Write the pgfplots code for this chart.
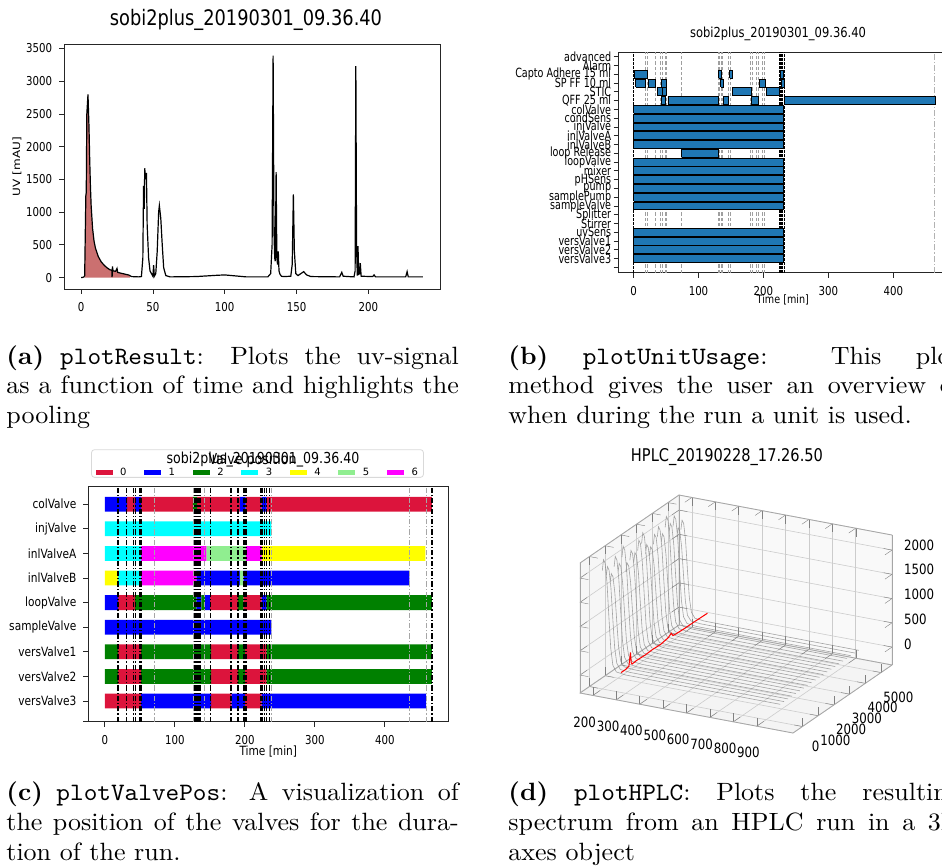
\documentclass[border=0pt]{standalone}
\usepackage{fontspec}
\usepackage{graphicx}
\usepackage{pgfplots}
\pgfplotsset{compat=1.18}
\newfontfamily\dv{DejaVu Sans}
\definecolor{tabblue}{RGB}{31,119,180}
\definecolor{vcrimson}{RGB}{220,20,60}
\definecolor{vblue}{RGB}{0,0,255}
\definecolor{vgreen}{RGB}{0,128,0}
\definecolor{vcyan}{RGB}{0,255,255}
\definecolor{vyellow}{RGB}{255,255,0}
\definecolor{vlgreen}{RGB}{144,238,144}
\definecolor{vmagenta}{RGB}{255,0,255}
\definecolor{poolred}{RGB}{203,112,112}
\pgfplotsset{
  mplbase/.style={
    scale only axis, axis line style={line width=0.45pt, black!85},
    tick align=outside, tick pos=left, major tick length=2.4pt,
    every tick/.style={black!85, line width=0.4pt},
    /pgf/number format/assume math mode=true,
    /pgf/number format/1000 sep={},
    scaled ticks=false,
    tick label style={font=\dv\fontsize{5.1}{6}\selectfont, yscale=1.2},
  }
}
\newcommand{\capbox}[1]{\scalebox{1.3}[1.25]{\parbox[t]{174pt}{\fontsize{10}{12}\selectfont #1}}}
\begin{document}
\begin{tikzpicture}
% ---------------- (d) ----------------
\begin{axis}[at={(290pt,-366.5pt)},
  x={(11.703pt,-2.198pt)}, y={(7.857pt,5.397pt)}, z={(0pt,24.25pt)},
  x filter/.expression={x/100}, y filter/.expression={y/1000}, z filter/.expression={z/1000},
  xmin=1.45, xmax=10.55, ymin=-0.6, ymax=5.7, zmin=-0.37, zmax=2.31,
  xtick={2,3,...,9}, xticklabels={200,300,400,500,600,700,800,900},
  ytick={0,1,...,5}, yticklabels={0,1000,2000,3000,4000,5000},
  ztick={0,0.5,...,2}, zticklabels={0,500,1000,1500,2000},
  zticklabel pos=right,
  grid=major, major grid style={gray!40, line width=0.3pt},
  set layers,
  axis line style={gray!70, line width=0.4pt},
  tick label style={font=\dv\fontsize{5.9}{7}\selectfont, yscale=1.2},
  xticklabel style={yshift=-4.5pt},
  yticklabel style={yshift=-2.5pt, xshift=1pt},
  zticklabel style={xshift=2.5pt},
  clip=false, empty line=jump,
]
\addplot3[on layer=axis background, fill=gray!7, draw=gray!25] coordinates {(145,-600,-370) (145,5700,-370) (145,5700,2310) (145,-600,2310)} --cycle;
\addplot3[on layer=axis background, fill=gray!5, draw=gray!25] coordinates {(145,5700,-370) (1055,5700,-370) (1055,5700,2310) (145,5700,2310)} --cycle;
\addplot3[on layer=axis background, fill=gray!9, draw=gray!25] coordinates {(145,-600,-370) (1055,-600,-370) (1055,5700,-370) (145,5700,-370)} --cycle;
\addplot3[gray, opacity=0.7, line width=0.3pt] table {
200 0 2070
205 0 2300
212 0 2231
220 0 1840
228 0 1150
236 0 506
245 0 161
260 0 35
300 0 8
500 0 4
960 0 2

200 250 1890
205 250 2100
212 250 2037
220 250 1680
228 250 1050
236 250 462
245 250 147
260 250 32
300 250 8
500 250 4
960 250 2

200 500 1710
205 500 1900
212 500 1843
220 500 1520
228 500 950
236 500 418
245 500 133
260 500 29
300 500 8
500 500 4
960 500 2

200 750 1980
205 750 2200
212 750 2134
220 750 1760
228 750 1100
236 750 484
245 750 154
260 750 33
300 750 8
500 750 4
960 750 2

200 1000 1800
205 1000 2000
212 1000 1940
220 1000 1600
228 1000 1000
236 1000 440
245 1000 140
260 1000 30
300 1000 8
500 1000 4
960 1000 2

200 1250 2070
205 1250 2300
212 1250 2231
220 1250 1840
228 1250 1150
236 1250 506
245 1250 161
260 1250 35
300 1250 8
500 1250 4
960 1250 2

200 1500 1710
205 1500 1900
212 1500 1843
220 1500 1520
228 1500 950
236 1500 418
245 1500 133
260 1500 29
300 1500 8
500 1500 4
960 1500 2

200 1750 1890
205 1750 2100
212 1750 2037
220 1750 1680
228 1750 1050
236 1750 462
245 1750 147
260 1750 32
300 1750 8
500 1750 4
960 1750 2

200 2000 1800
205 2000 2000
212 2000 1940
220 2000 1600
228 2000 1000
236 2000 440
245 2000 140
260 2000 30
300 2000 8
500 2000 4
960 2000 2

200 2250 1980
205 2250 2200
212 2250 2134
220 2250 1760
228 2250 1100
236 2250 484
245 2250 154
260 2250 33
300 2250 8
500 2250 4
960 2250 2

200 2500 2070
205 2500 2300
212 2500 2231
220 2500 1840
228 2500 1150
236 2500 506
245 2500 161
260 2500 35
300 2500 8
500 2500 4
960 2500 2

200 2750 1800
205 2750 2000
212 2750 1940
220 2750 1600
228 2750 1000
236 2750 440
245 2750 140
260 2750 30
300 2750 8
500 2750 4
960 2750 2

200 3000 1710
205 3000 1900
212 3000 1843
220 3000 1520
228 3000 950
236 3000 418
245 3000 133
260 3000 29
300 3000 8
500 3000 4
960 3000 2

200 3250 1890
205 3250 2100
212 3250 2037
220 3250 1680
228 3250 1050
236 3250 462
245 3250 147
260 3250 32
300 3250 8
500 3250 4
960 3250 2

200 3500 1980
205 3500 2200
212 3500 2134
220 3500 1760
228 3500 1100
236 3500 484
245 3500 154
260 3500 33
300 3500 8
500 3500 4
960 3500 2

200 3750 1800
205 3750 2000
212 3750 1940
220 3750 1600
228 3750 1000
236 3750 440
245 3750 140
260 3750 30
300 3750 8
500 3750 4
960 3750 2

200 4000 2070
205 4000 2300
212 4000 2231
220 4000 1840
228 4000 1150
236 4000 506
245 4000 161
260 4000 35
300 4000 8
500 4000 4
960 4000 2

200 4250 1890
205 4250 2100
212 4250 2037
220 4250 1680
228 4250 1050
236 4250 462
245 4250 147
260 4250 32
300 4250 8
500 4250 4
960 4250 2

200 4500 1980
205 4500 2200
212 4500 2134
220 4500 1760
228 4500 1100
236 4500 484
245 4500 154
260 4500 33
300 4500 8
500 4500 4
960 4500 2

200 4750 1710
205 4750 1900
212 4750 1843
220 4750 1520
228 4750 950
236 4750 418
245 4750 133
260 4750 29
300 4750 8
500 4750 4
960 4750 2

200 5000 1800
205 5000 2000
212 5000 1940
220 5000 1600
228 5000 1000
236 5000 440
245 5000 140
260 5000 30
300 5000 8
500 5000 4
960 5000 2
};
\addplot3[red, line width=0.5pt] table {
280 0 40
280 300 40
280 500 60
280 600 320
280 650 100
280 700 60
280 1000 70
280 1500 60
280 2000 70
280 2500 60
280 3000 90
280 3200 140
280 3300 70
280 3500 60
280 4000 50
280 4500 50
280 5000 45
280 5500 40
};
\end{axis}
\useasboundingbox (0,0) rectangle (471pt,-433pt);
\clip (0,0) rectangle (471pt,-433pt);
% ---------------- (a) ----------------
\begin{axis}[mplbase, at={(32pt,-144.5pt)}, anchor=south west,
  width=188pt, height=122.35pt,
  xmin=-11.9, xmax=249.9, ymin=-175, ymax=3565,
  xtick={0,50,...,250}, ytick={0,500,...,3500},
  ylabel={UV [mAU]},
  every axis y label/.style={at={(axis description cs:-0.125,0.5)}, anchor=center, rotate=90, xscale=1.2, font=\dv\fontsize{5}{6}\selectfont},
]
\addplot[fill=poolred, draw=none] table {
2.5 30
3.3 1250
3.6 1300
4.0 2500
4.8 2800
5.5 2300
6 1800
6.5 1400
7 1100
8 750
9 560
10 450
12 320
14 240
16 190
18 150
20 120
21.4 110
21.6 5
21.8 170
22.3 100
23 100
24 95
25 140
25.5 80
27 70
30 55
33 40
34 30
} \closedcycle;
\addplot[black, line width=0.6pt] table {
0 0
1 2
2 10
2.5 30
3.3 1250
3.6 1300
4.0 2500
4.8 2800
5.5 2300
6 1800
6.5 1400
7 1100
8 750
9 560
10 450
12 320
14 240
16 190
18 150
20 120
21.4 110
21.6 5
21.8 170
22.3 100
23 100
24 95
25 140
25.5 80
27 70
30 55
33 40
34 30
35 15
40 10
42 15
43 300
43.5 1400
44 1050
44.3 1670
45 1500
45.5 1600
46 800
47 300
48 100
49.5 40
50 20
50.5 190
51 20
52 60
53 400
54 1000
54.5 1100
55.5 900
56.5 500
57.5 150
59 30
62 10
80 15
95 35
100 40
105 30
115 10
130 10
132 60
133 500
133.7 3390
134.3 700
134.8 300
135.2 250
135.8 1610
136.3 300
136.8 200
137.3 400
137.8 100
138.5 50
139.5 20
141 15
146 20
147 200
147.8 1270
148.5 400
149.5 60
151 30
153 60
155 90
157 40
160 15
180 10
181.5 80
182.5 20
190 10
190.8 100
191.3 3230
191.8 500
192.3 30
192.8 480
193.3 50
194 60
194.4 220
195 20
203 15
204 40
205 10
226 10
227 90
227.8 10
238 10
};
\end{axis}
% ---------------- (b) ----------------
\begin{axis}[mplbase, at={(309.15pt,-136.35pt)}, anchor=south west,
  width=167.85pt, height=110.2pt,
  xmin=-23.5, xmax=493.5, ymin=-0.6, ymax=24.5,
  xtick={0,100,...,400}, ytick={0,...,24},
  yticklabels={{},versValve3,versValve2,versValve1,uvSens,Stirrer,Splitter,sampleValve,samplePump,pump,pHSens,mixer,loopValve,loop Release,inlValveB,inlValveA,injValve,condSens,colValve,QFF 25 ml,STIC,SP FF 10 ml,Capto Adhere 15 ml,Alarm,advanced},
  yticklabel style={font=\dv\fontsize{4.8}{5}\selectfont, inner sep=1pt, yscale=1.1},
  xlabel={Time [min]},
  every axis x label/.style={at={(axis description cs:0.49,-0.122)}, anchor=center, yscale=1.2, font=\dv\fontsize{4.8}{6}\selectfont},
  unbounded coords=jump,
]
\addplot[gray!75, line width=0.45pt, dash pattern=on 1.6pt off 1pt] table {
19 -0.6
19 24.5
nan nan
21 -0.6
21 24.5
nan nan
33 -0.6
33 24.5
nan nan
41 -0.6
41 24.5
nan nan
44 -0.6
44 24.5
nan nan
49 -0.6
49 24.5
nan nan
51 -0.6
51 24.5
nan nan
73 -0.6
73 24.5
nan nan
131 -0.6
131 24.5
nan nan
133 -0.6
133 24.5
nan nan
135 -0.6
135 24.5
nan nan
137 -0.6
137 24.5
nan nan
146 -0.6
146 24.5
nan nan
149 -0.6
149 24.5
nan nan
180 -0.6
180 24.5
nan nan
183 -0.6
183 24.5
nan nan
190 -0.6
190 24.5
nan nan
193 -0.6
193 24.5
nan nan
199 -0.6
199 24.5
nan nan
202 -0.6
202 24.5
};
\addplot[gray!60, line width=0.45pt, dash pattern=on 3pt off 1pt on 0.6pt off 1pt] table {
464 -0.6
464 24.5
};
\addplot[black, line width=0.5pt, dash pattern=on 1.2pt off 0.8pt] table {
0 -0.6
0 24.5
nan nan
224 -0.6
224 24.5
nan nan
226 -0.6
226 24.5
nan nan
228 -0.6
228 24.5
nan nan
230 -0.6
230 24.5
nan nan
232 -0.6
232 24.5
};
\addplot[fill=tabblue, draw=black, line width=0.45pt] table {
1 21.55
21.5 21.55
21.5 22.45
1 22.45
1 21.55
nan nan
131 21.55
135.5 21.55
135.5 22.45
131 22.45
131 21.55
nan nan
148 21.55
152.5 21.55
152.5 22.45
148 22.45
148 21.55
nan nan
226 21.55
230.5 21.55
230.5 22.45
226 22.45
226 21.55
nan nan
3.5 20.55
19 20.55
19 21.45
3.5 21.45
3.5 20.55
nan nan
22.5 20.55
33 20.55
33 21.45
22.5 21.45
22.5 20.55
nan nan
42.5 20.55
51 20.55
51 21.45
42.5 21.45
42.5 20.55
nan nan
134.5 20.55
138 20.55
138 21.45
134.5 21.45
134.5 20.55
nan nan
193.5 20.55
202.5 20.55
202.5 21.45
193.5 21.45
193.5 20.55
nan nan
228 20.55
232 20.55
232 21.45
228 21.45
228 20.55
nan nan
37 19.55
44 19.55
44 20.45
37 20.45
37 19.55
nan nan
44 19.55
51 19.55
51 20.45
44 20.45
44 19.55
nan nan
152 19.55
181.5 19.55
181.5 20.45
152 20.45
152 19.55
nan nan
204 19.55
225 19.55
225 20.45
204 20.45
204 19.55
nan nan
43.5 18.55
48.5 18.55
48.5 19.45
43.5 19.45
43.5 18.55
nan nan
53 18.55
131 18.55
131 19.45
53 19.45
53 18.55
nan nan
138.5 18.55
146 18.55
146 19.45
138.5 19.45
138.5 18.55
nan nan
182 18.55
192.5 18.55
192.5 19.45
182 19.45
182 18.55
nan nan
233 18.55
465 18.55
465 19.45
233 19.45
233 18.55
nan nan
0 17.55
231 17.55
231 18.45
0 18.45
0 17.55
nan nan
0 16.55
231 16.55
231 17.45
0 17.45
0 16.55
nan nan
0 15.55
231 15.55
231 16.45
0 16.45
0 15.55
nan nan
0 14.55
231 14.55
231 15.45
0 15.45
0 14.55
nan nan
0 13.55
231 13.55
231 14.45
0 14.45
0 13.55
nan nan
74.5 12.55
131 12.55
131 13.45
74.5 13.45
74.5 12.55
nan nan
0 11.55
231 11.55
231 12.45
0 12.45
0 11.55
nan nan
0 10.55
231 10.55
231 11.45
0 11.45
0 10.55
nan nan
0 9.55
231 9.55
231 10.45
0 10.45
0 9.55
nan nan
0 8.55
231 8.55
231 9.45
0 9.45
0 8.55
nan nan
0 7.55
231 7.55
231 8.45
0 8.45
0 7.55
nan nan
0 6.55
231 6.55
231 7.45
0 7.45
0 6.55
nan nan
0 3.55
231 3.55
231 4.45
0 4.45
0 3.55
nan nan
0 2.55
231 2.55
231 3.45
0 3.45
0 2.55
nan nan
0 1.55
231 1.55
231 2.45
0 2.45
0 1.55
nan nan
0 0.55
231 0.55
231 1.45
0 1.45
0 0.55
};
\end{axis}
% ---------------- (c) ----------------
\begin{axis}[mplbase, at={(44.15pt,-360.85pt)}, anchor=south west,
  width=180pt, height=117.85pt,
  xmin=-23.5, xmax=490.6, ymin=0.16, ymax=9.74,
  xtick={0,100,...,400}, ytick={0.16,1,2,3,4,5,6,7,8,9},
  yticklabels={{},versValve3,versValve2,versValve1,sampleValve,loopValve,inlValveB,inlValveA,injValve,colValve},
  yticklabel style={font=\dv\fontsize{5.3}{6}\selectfont},
  xlabel={Time [min]},
  every axis x label/.style={at={(axis description cs:0.5,-0.128)}, anchor=center, yscale=1.2, font=\dv\fontsize{5.3}{6}\selectfont},
  unbounded coords=jump,
  legend columns=7,
  legend image code/.code={\fill[#1, sharp corners] (0pt,-5.8pt) rectangle (8.5pt,-3.05pt);},
  legend style={at={(0.47,1.035)}, anchor=south, draw=gray!30, rounded corners=1.5pt,
    font=\dv\fontsize{5}{6}\selectfont, inner xsep=2pt, inner ysep=0.5pt,
    nodes={text height=12.45pt, text depth=0pt, inner xsep=0.8pt, inner ysep=0.2pt},
    /tikz/every odd column/.append style={column sep=3pt},
    /tikz/every even column/.append style={column sep=8pt}},
]
\addplot[fill=vcrimson, draw=none] table {
32 8.7
43 8.7
43 9.3
32 9.3
nan nan
52 8.7
126 8.7
126 9.3
52 9.3
nan nan
132 8.7
193 8.7
193 9.3
132 9.3
nan nan
201 8.7
224 8.7
224 9.3
201 9.3
nan nan
231 8.7
467 8.7
467 9.3
231 9.3
nan nan
19 4.7
43 4.7
43 5.3
19 5.3
nan nan
150 4.7
190 4.7
190 5.3
150 5.3
nan nan
198 4.7
224 4.7
224 5.3
198 5.3
nan nan
19 2.7
52 2.7
52 3.3
19 3.3
nan nan
152 2.7
190 2.7
190 3.3
152 3.3
nan nan
200 2.7
231 2.7
231 3.3
200 3.3
nan nan
19 1.7
52 1.7
52 2.3
19 2.3
nan nan
152 1.7
190 1.7
190 2.3
152 2.3
nan nan
200 1.7
231 1.7
231 2.3
200 2.3
nan nan
0 0.7
52 0.7
52 1.3
0 1.3
nan nan
152 0.7
181 0.7
181 1.3
152 1.3
nan nan
200 0.7
224 0.7
224 1.3
200 1.3
};
\addlegendentry{0}
\addplot[fill=vblue, draw=none] table {
0 8.7
32 8.7
32 9.3
0 9.3
nan nan
43 8.7
52 8.7
52 9.3
43 9.3
nan nan
193 8.7
201 8.7
201 9.3
193 9.3
nan nan
224 8.7
231 8.7
231 9.3
224 9.3
nan nan
131 5.7
193 5.7
193 6.3
131 6.3
nan nan
198 5.7
435 5.7
435 6.3
198 6.3
nan nan
0 4.7
19 4.7
19 5.3
0 5.3
nan nan
131 4.7
138 4.7
138 5.3
131 5.3
nan nan
143 4.7
150 4.7
150 5.3
143 5.3
nan nan
224 4.7
231 4.7
231 5.3
224 5.3
nan nan
0 3.7
238 3.7
238 4.3
0 4.3
nan nan
52 0.7
152 0.7
152 1.3
52 1.3
nan nan
181 0.7
200 0.7
200 1.3
181 1.3
nan nan
224 0.7
459 0.7
459 1.3
224 1.3
};
\addlegendentry{1}
\addplot[fill=vgreen, draw=none] table {
126 8.7
132 8.7
132 9.3
126 9.3
nan nan
43 4.7
131 4.7
131 5.3
43 5.3
nan nan
138 4.7
143 4.7
143 5.3
138 5.3
nan nan
190 4.7
198 4.7
198 5.3
190 5.3
nan nan
231 4.7
467 4.7
467 5.3
231 5.3
nan nan
0 2.7
19 2.7
19 3.3
0 3.3
nan nan
52 2.7
152 2.7
152 3.3
52 3.3
nan nan
190 2.7
200 2.7
200 3.3
190 3.3
nan nan
231 2.7
467 2.7
467 3.3
231 3.3
nan nan
0 1.7
19 1.7
19 2.3
0 2.3
nan nan
52 1.7
152 1.7
152 2.3
52 2.3
nan nan
190 1.7
200 1.7
200 2.3
190 2.3
nan nan
231 1.7
467 1.7
467 2.3
231 2.3
};
\addlegendentry{2}
\addplot[fill=vcyan, draw=none] table {
0 7.7
238 7.7
238 8.3
0 8.3
nan nan
0 6.7
52 6.7
52 7.3
0 7.3
nan nan
19 5.7
52 5.7
52 6.3
19 6.3
};
\addlegendentry{3}
\addplot[fill=vyellow, draw=none] table {
224 6.7
458 6.7
458 7.3
224 7.3
nan nan
0 5.7
19 5.7
19 6.3
0 6.3
};
\addlegendentry{4}
\addplot[fill=vlgreen, draw=none] table {
145 6.7
202 6.7
202 7.3
145 7.3
nan nan
193 5.7
198 5.7
198 6.3
193 6.3
};
\addlegendentry{5}
\addplot[fill=vmagenta, draw=none] table {
52 6.7
145 6.7
145 7.3
52 7.3
nan nan
202 6.7
224 6.7
224 7.3
202 7.3
nan nan
52 5.7
131 5.7
131 6.3
52 6.3
};
\addlegendentry{6}
\addplot[forget plot, black, line width=0.75pt, dash pattern=on 2.6pt off 1pt on 0.6pt off 1pt] table {
19 0.16
19 9.74
nan nan
31 0.16
31 9.74
nan nan
41 0.16
41 9.74
nan nan
44 0.16
44 9.74
nan nan
50 0.16
50 9.74
nan nan
52 0.16
52 9.74
nan nan
129 0.16
129 9.74
nan nan
131 0.16
131 9.74
nan nan
133 0.16
133 9.74
nan nan
135 0.16
135 9.74
nan nan
137 0.16
137 9.74
nan nan
151 0.16
151 9.74
nan nan
180 0.16
180 9.74
nan nan
190 0.16
190 9.74
nan nan
199 0.16
199 9.74
nan nan
202 0.16
202 9.74
nan nan
223 0.16
223 9.74
nan nan
225 0.16
225 9.74
nan nan
228 0.16
228 9.74
nan nan
231 0.16
231 9.74
nan nan
235 0.16
235 9.74
nan nan
467 0.16
467 9.74
};
\addplot[forget plot, gray!70, line width=0.6pt, dash pattern=on 2.6pt off 1pt on 0.6pt off 1pt] table {
71 0.16
71 9.74
nan nan
127 0.16
127 9.74
nan nan
143 0.16
143 9.74
nan nan
238 0.16
238 9.74
nan nan
435 0.16
435 9.74
nan nan
459 0.16
459 9.74
};
\end{axis}
% ---------------- titles ----------------
\node[font=\dv\fontsize{8.9}{10}\selectfont, yscale=1.2] at (123pt,-10pt) {sobi2plus\_20190301\_09.36.40};
\node[font=\dv\fontsize{5.75}{7}\selectfont, yscale=1.2] at (389pt,-17pt) {sobi2plus\_20190301\_09.36.40};
\node[font=\dv\fontsize{6.3}{7}\selectfont, yscale=1.2] at (126.25pt,-230pt) {Valve position};
\node[font=\dv\fontsize{6.3}{7}\selectfont, yscale=1.2] at (131.5pt,-230pt) {sobi2plus\_20190301\_09.36.40};
\node[font=\dv\fontsize{7.3}{8}\selectfont, yscale=1.2] at (363.5pt,-228.5pt) {HPLC\_20190228\_17.26.50};
% ---------------- captions ----------------
\node[anchor=base west, inner sep=0] at (3pt,-182pt) {\capbox{\textbf{(a)} \texttt{plotResult}: Plots the uv-signal\linebreak as a function of time and highlights the\linebreak pooling}};
\node[anchor=base west, inner sep=0] at (254pt,-182pt) {\capbox{\textbf{(b)} \texttt{plotUnitUsage}: This plot\linebreak method gives the user an overview of\linebreak when during the run a unit is used.}};
\node[anchor=base west, inner sep=0] at (3pt,-400pt) {\capbox{\textbf{(c)} \texttt{plotValvePos}: A visualization of\linebreak the position of the valves for the dura-\linebreak tion of the run.}};
\node[anchor=base west, inner sep=0] at (254pt,-400pt) {\capbox{\textbf{(d)} \texttt{plotHPLC}: Plots the resulting\linebreak spectrum from an HPLC run in a 3D\linebreak axes object}};
\end{tikzpicture}
\end{document}
